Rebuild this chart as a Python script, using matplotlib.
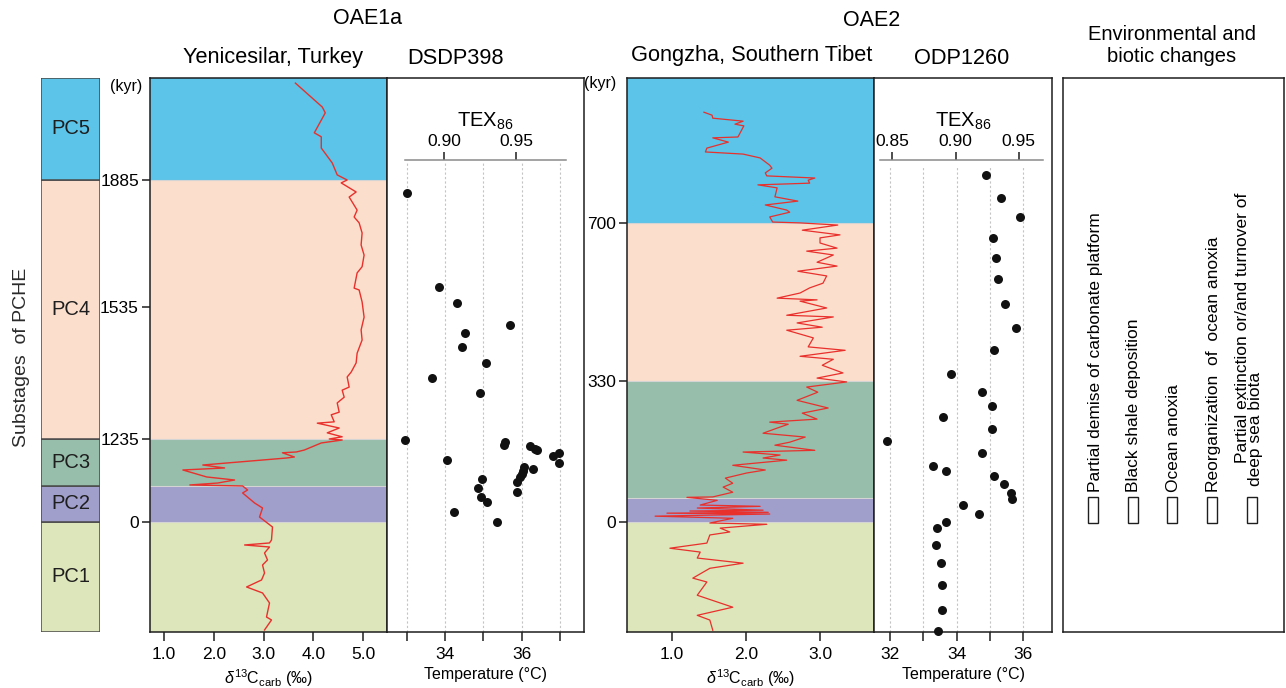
import numpy as np
import matplotlib
matplotlib.use("Agg")
import matplotlib.pyplot as plt
from matplotlib.patches import Rectangle

plt.rcParams['font.family'] = ['Liberation Sans', 'DejaVu Sans']
plt.rcParams['mathtext.fontset'] = 'custom'
plt.rcParams['mathtext.rm'] = 'Liberation Sans'
plt.rcParams['mathtext.it'] = 'Liberation Sans:italic'
plt.rcParams['mathtext.bf'] = 'Liberation Sans:bold'

# ---- substages of the PCHE (kyr) ----
STAGE_NAMES = ['PC1', 'PC2', 'PC3', 'PC4', 'PC5']
STAGE_COLORS = ['#DDE5BA', '#A09ECA', '#96BEAA', '#FCDECC', '#5BC4E8']
OAE1A_BOUNDS = [-1637, 0, 536, 1235, 1885, 2166]
OAE2_BOUNDS = [-257, 0, 56, 330, 700, 1039]

# piecewise age model of the OAE1a column (kyr -> relative height)
OAE1A_AGE_ANCHORS = [-1637, 0, 1235, 1535, 1885, 2166]
OAE1A_HEIGHT_ANCHORS = [0, 110, 193, 325, 452, 554]
OAE1A_AGE_TICKS = [0, 1235, 1535, 1885]
OAE2_AGE_TICKS = [0, 330, 700]

# ---- Yenicesilar, Turkey: d13C carb ----
YEN_D13C = [3.64, 4.18, 4.24, 4.02, 4.16, 4.16, 4.38, 4.48, 4.68, 4.56,
            4.86, 4.72, 4.88, 4.82, 4.92, 4.98, 4.96, 5.02, 4.98, 4.88,
            4.82, 4.92, 4.98, 5.02, 4.96, 4.98, 4.88, 4.86, 4.76, 4.68,
            4.72, 4.58, 4.62, 4.48, 4.52, 4.36, 4.42, 4.08, 4.52, 4.28,
            4.58, 4.32, 4.58, 4.16, 3.82, 3.66, 3.38, 3.62, 3.46, 1.78,
            2.22, 1.38, 1.86, 2.42, 2.08, 1.52, 2.58, 2.68, 2.58, 2.82,
            2.98, 2.92, 3.18, 3.16, 3.12, 2.62, 3.12, 3.02, 3.08, 2.98,
            3.02, 2.96, 2.66, 2.98, 3.12, 3.06, 3.16, 3.02]
YEN_AGE = [2152, 2086, 2070, 2015, 2004, 1973, 1932, 1899, 1885, 1877,
           1852, 1838, 1802, 1783, 1767, 1739, 1706, 1678, 1646, 1629,
           1587, 1582, 1549, 1512, 1483, 1460, 1430, 1408, 1387, 1376,
           1353, 1346, 1330, 1317, 1296, 1290, 1274, 1271, 1260, 1249,
           1240, 1235, 1220, 1176, 1071, 1042, 1030, 967, 952, 848,
           804, 774, 670, 625, 580, 551, 536, 476, 432, 283,
           208, 74, -74, -268, -312, -342, -372, -461, -565, -640,
           -759, -863, -967, -1056, -1205, -1414, -1458, -1607]

# ---- DSDP398: TEX86 temperature ----
DSDP_TEMP = [33.00, 33.84, 34.31, 35.69, 34.51, 34.44, 35.06, 33.65, 34.91,
             32.95, 35.56, 35.53, 34.04, 36.21, 36.34, 36.39, 36.81, 36.97,
             36.97, 36.29, 36.05, 36.03, 36.00, 35.95, 35.87, 35.87, 34.96,
             34.85, 34.93, 35.09, 34.23, 35.35]
DSDP_AGE = [1849, 1590, 1546, 1494, 1476, 1444, 1408, 1374, 1340,
            1220, 1191, 1146, 923, 1131, 1086, 1071, 982, 1027,
            878, 789, 818, 759, 714, 670, 595, 446, 640,
            506, 372, 298, 149, 0]

# ---- Gongzha, Southern Tibet: d13C carb ----
GON_D13C = [1.43, 1.54, 1.55, 1.96, 1.85, 1.97, 1.89, 1.55, 1.76, 1.47,
            1.45, 1.96, 2.19, 2.32, 2.35, 2.26, 2.28, 2.93, 2.84, 2.86,
            2.16, 2.42, 2.39, 2.70, 2.26, 2.55, 2.59, 2.32, 2.36, 2.73,
            3.24, 2.76, 3.27, 3.00, 3.00, 3.23, 2.82, 3.18, 2.96, 3.23,
            2.70, 3.09, 3.04, 2.86, 2.73, 2.42, 2.96, 2.73, 3.09, 2.55,
            3.18, 2.69, 3.03, 2.55, 2.91, 2.84, 3.34, 2.73, 3.18, 3.03,
            3.31, 2.96, 3.36, 2.82, 2.97, 2.69, 3.11, 2.76, 2.96, 2.32,
            2.57, 2.42, 2.23, 2.80, 2.59, 2.39, 2.93, 1.96, 2.46, 2.23,
            2.55, 1.82, 2.26, 2.01, 1.72, 1.82, 1.69, 1.82, 1.55, 1.20,
            1.61, 1.38, 2.19, 1.34, 2.23, 1.24, 2.30, 0.93, 2.32, 0.77,
            1.82, 1.51, 2.28, 1.65, 1.78, 1.51, 1.47, 0.97, 1.38, 1.34,
            1.96, 1.51, 1.28, 1.47, 1.34, 1.82, 1.34, 1.51, 1.55]
GON_AGE = [959, 952, 945, 938, 931, 927, 901, 899, 889, 875,
           866, 861, 852, 835, 828, 817, 810, 805, 800, 793,
           789, 782, 761, 751, 742, 730, 725, 714, 702, 700,
           695, 683, 672, 665, 653, 641, 634, 625, 608, 599,
           587, 576, 559, 548, 536, 524, 520, 517, 501, 484,
           480, 466, 456, 449, 431, 410, 402, 388, 381, 367,
           349, 337, 328, 316, 304, 285, 267, 255, 241, 234,
           229, 220, 208, 199, 187, 180, 168, 164, 157, 150,
           145, 133, 122, 115, 103, 91, 82, 70, 59, 58,
           51, 40, 37, 33, 28, 26, 23, 21, 19, 14,
           9, -2, -5, -14, -23, -30, -49, -61, -70, -84,
           -96, -108, -131, -140, -171, -199, -218, -229, -253]

# ---- ODP1260: TEX86 temperature ----
ODP_TEMP = [34.89, 35.34, 35.91, 35.10, 35.19, 35.25, 35.46, 35.79, 35.13,
            33.83, 34.77, 35.07, 33.59, 35.07, 31.91, 34.77, 33.29, 33.68,
            35.13, 35.43, 35.64, 35.67, 34.20, 34.68, 33.68, 33.41, 33.38,
            33.53, 33.56, 33.56, 33.44]
ODP_AGE = [812, 758, 713, 665, 618, 569, 510, 454, 402,
           346, 304, 271, 246, 218, 190, 161, 131, 119,
           108, 89, 68, 54, 40, 19, 0, -14, -54,
           -96, -147, -206, -255]

# ---- axis ticks ----
D13C_TICKS_1 = [1.0, 2.0, 3.0, 4.0, 5.0]
D13C_TICKS_2 = [1.0, 2.0, 3.0]
DSDP_TEMP_TICKS = [33, 34, 35, 36, 37]
DSDP_TEMP_LABELS = ['', '34', '', '36', '']
ODP_TEMP_TICKS = [32, 33, 34, 35, 36]
ODP_TEMP_LABELS = ['32', '', '34', '', '36']
DSDP_TEX_TICKS = [0.90, 0.95]
ODP_TEX_TICKS = [0.85, 0.90, 0.95]

# TEX86 <-> temperature used for the top scales
T_REF, TEX_REF, T_PER_TEX = 33.97, 0.90, 37.9

CHANGES = ['Partial demise of carbonate platform',
           'Black shale deposition',
           'Ocean anoxia',
           'Reorganization  of  ocean anoxia']
CHANGES_LAST = ['Partial extinction or/and turnover of', 'deep sea biota']

RED = '#E8302C'
DARK = '#1e1e1e'
TICK_FS = 12.5


def oae1a_fwd(a):
    return np.interp(a, OAE1A_AGE_ANCHORS, OAE1A_HEIGHT_ANCHORS)


def oae1a_inv(h):
    return np.interp(h, OAE1A_HEIGHT_ANCHORS, OAE1A_AGE_ANCHORS)


def t_to_tex(t):
    return TEX_REF + (np.asarray(t) - T_REF) / T_PER_TEX


def tex_to_t(x):
    return T_REF + (np.asarray(x) - TEX_REF) * T_PER_TEX


W, H = 1286, 688


def rect(left, right, top=78, bottom=632):
    return [left / W, 1 - bottom / H, (right - left) / W, (bottom - top) / H]


def style_spines(ax):
    for s in ax.spines.values():
        s.set_color(DARK)
        s.set_linewidth(1.1)


def draw_bands(ax, bounds):
    for lo, hi, c in zip(bounds[:-1], bounds[1:], STAGE_COLORS):
        ax.axhspan(lo, hi, color=c, lw=0, zorder=0)
    for b in bounds[1:-1]:
        ax.axhline(b, color='#d4d4d4', lw=0.8, zorder=0.5)


def bottom_axis(ax, ticks, labels, xlabel):
    ax.set_xticks(ticks, labels=labels)
    ax.tick_params(axis='x', direction='out', length=6.5, width=1.1,
                   labelsize=TICK_FS, pad=4, color=DARK)
    ax.set_xlabel(xlabel, fontsize=11.5, labelpad=4)


def tex_axis(ax, ticks, bounds, grid_top, temps):
    sec = ax.secondary_xaxis(0.852, functions=(t_to_tex, tex_to_t))
    sec.set_xticks(ticks, labels=[f'{t:.2f}' for t in ticks])
    sec.tick_params(length=6, width=1.1, labelsize=TICK_FS, pad=2, color=DARK)
    sec.spines['top'].set_bounds(*bounds)
    sec.spines['top'].set_color('#8a8a8a')
    sec.spines['top'].set_linewidth(1.1)
    sec.set_xlabel(r'TEX$_{86}$', fontsize=14.5, labelpad=5)
    for t in temps:
        ax.axvline(t, ymin=0, ymax=grid_top, color='#c4c4c4', lw=0.8,
                   ls=(0, (2, 2)), zorder=1)


fig = plt.figure(figsize=(W / 100, H / 100), dpi=100)

# ---- PCHE substage column ----
ax1 = fig.add_axes(rect(150, 387))
ax1.set_yscale('function', functions=(oae1a_fwd, oae1a_inv))
ax1.set_ylim(OAE1A_BOUNDS[0], OAE1A_BOUNDS[-1])

ax_st = fig.add_axes(rect(41, 100), sharey=ax1)
for lo, hi, c, name in zip(OAE1A_BOUNDS[:-1], OAE1A_BOUNDS[1:], STAGE_COLORS, STAGE_NAMES):
    ax_st.axhspan(lo, hi, facecolor=c, edgecolor='#4a4a4a', lw=1.1)
    mid = oae1a_inv((oae1a_fwd(lo) + oae1a_fwd(hi)) / 2)
    ax_st.text(0.5, mid, name, transform=ax_st.get_yaxis_transform(),
               ha='center', va='center', fontsize=14.5, color=DARK)
ax_st.set_xlim(0, 1)
ax_st.axis('off')
fig.text(22 / W, 1 - 357 / H, 'Substages  of PCHE', rotation=90,
         ha='center', va='center', fontsize=14, color='#2a2a2a')

# ---- Yenicesilar d13C ----
draw_bands(ax1, OAE1A_BOUNDS)
ax1.plot(YEN_D13C, YEN_AGE, color=RED, lw=1.0, zorder=2)
ax1.set_xlim(0.72, 5.48)
ax1.set_yticks(OAE1A_AGE_TICKS, labels=[str(t) for t in OAE1A_AGE_TICKS])
ax1.tick_params(axis='y', direction='out', length=6, width=1.1,
                labelsize=TICK_FS, pad=2, color=DARK)
bottom_axis(ax1, D13C_TICKS_1, [f'{t:.1f}' for t in D13C_TICKS_1],
            r'$\delta^{13}$C$_{\rm carb}$ (‰)')
ax1.text(-0.101, 0.984, '(kyr)', transform=ax1.transAxes, ha='center',
         va='center', fontsize=11.5)
style_spines(ax1)

# ---- DSDP398 ----
ax2 = fig.add_axes(rect(387, 584), sharey=ax1)
ax2.set_xlim(32.48, 37.63)
ax2.scatter(DSDP_TEMP, DSDP_AGE, s=42, color='#111111', zorder=3,
            linewidths=0, clip_on=False)
ax2.tick_params(axis='y', left=False, labelleft=False)
bottom_axis(ax2, DSDP_TEMP_TICKS, DSDP_TEMP_LABELS, 'Temperature (°C)')
tex_axis(ax2, DSDP_TEX_TICKS, (t_to_tex(32.95), t_to_tex(37.15)), 0.846, DSDP_TEMP_TICKS)
style_spines(ax2)

# ---- Gongzha d13C ----
ax3 = fig.add_axes(rect(627, 874))
ax3.set_ylim(OAE2_BOUNDS[0], OAE2_BOUNDS[-1])
draw_bands(ax3, OAE2_BOUNDS)
ax3.plot(GON_D13C, GON_AGE, color=RED, lw=0.9, zorder=2)
ax3.set_xlim(0.39, 3.73)
ax3.set_yticks(OAE2_AGE_TICKS, labels=[str(t) for t in OAE2_AGE_TICKS])
ax3.tick_params(axis='y', direction='out', length=6, width=1.1,
                labelsize=TICK_FS, pad=2, color=DARK)
bottom_axis(ax3, D13C_TICKS_2, [f'{t:.1f}' for t in D13C_TICKS_2],
            r'$\delta^{13}$C$_{\rm carb}$ (‰)')
ax3.text(-0.109, 0.99, '(kyr)', transform=ax3.transAxes, ha='center',
         va='center', fontsize=11.5)
style_spines(ax3)

# ---- ODP1260 ----
ax4 = fig.add_axes(rect(874, 1052), sharey=ax3)
ax4.set_xlim(31.52, 36.87)
ax4.scatter(ODP_TEMP, ODP_AGE, s=42, color='#111111', zorder=3,
            linewidths=0, clip_on=False)
ax4.tick_params(axis='y', left=False, labelleft=False)
bottom_axis(ax4, ODP_TEMP_TICKS, ODP_TEMP_LABELS, 'Temperature (°C)')
tex_axis(ax4, ODP_TEX_TICKS, (t_to_tex(31.70), t_to_tex(36.59)), 0.841, ODP_TEMP_TICKS)
style_spines(ax4)

# ---- environmental and biotic changes ----
ax5 = fig.add_axes(rect(1063, 1284))
ax5.set_xticks([])
ax5.set_yticks([])
style_spines(ax5)
text_x = [0.149, 0.321, 0.498, 0.679]
box_x = [0.113, 0.294, 0.471, 0.652, 0.833]
for x, label in zip(text_x, CHANGES):
    ax5.text(x, 0.252, label, transform=ax5.transAxes, rotation=90,
             rotation_mode='anchor', ha='left', va='center', fontsize=12.5)
ax5.text(0.81, 0.305, CHANGES_LAST[0], transform=ax5.transAxes, rotation=90,
         rotation_mode='anchor', ha='left', va='center', fontsize=12.5)
ax5.text(0.873, 0.264, CHANGES_LAST[1], transform=ax5.transAxes, rotation=90,
         rotation_mode='anchor', ha='left', va='center', fontsize=12.5)
for x in box_x:
    ax5.add_patch(Rectangle((x, 0.197), 0.045, 0.047, transform=ax5.transAxes,
                            facecolor='white', edgecolor=DARK, lw=1.0))

# ---- headings ----
fig.text(367 / W, 1 - 19 / H, 'OAE1a', ha='center', va='center', fontsize=15.5)
fig.text(872 / W, 1 - 20 / H, 'OAE2', ha='center', va='center', fontsize=15.5)
fig.text(273 / W, 1 - 57 / H, 'Yenicesilar, Turkey', ha='center', va='center', fontsize=15.7)
fig.text(456 / W, 1 - 58 / H, 'DSDP398', ha='center', va='center', fontsize=15.7)
fig.text(752 / W, 1 - 55 / H, 'Gongzha, Southern Tibet', ha='center', va='center', fontsize=15.7)
fig.text(962 / W, 1 - 58 / H, 'ODP1260', ha='center', va='center', fontsize=15.7)
fig.text(1172 / W, 1 - 45 / H, 'Environmental and\nbiotic changes', ha='center',
         va='center', fontsize=14.5, linespacing=1.2)

fig.savefig('out.png', dpi=100)
